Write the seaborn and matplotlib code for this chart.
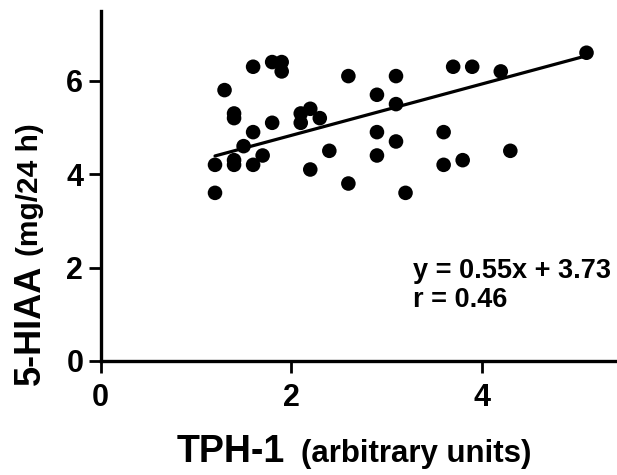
import numpy as np
import pandas as pd
import seaborn as sns
import matplotlib.pyplot as plt

# TPH-1 expression vs urinary 5-HIAA
tph1 = [1.3, 1.6, 1.8, 1.9, 1.9, 1.4, 1.4, 1.6, 1.8, 2.1,
        2.2, 2.1, 2.3, 1.5, 1.7, 1.2, 1.4, 1.4, 1.6, 1.2,
        2.4, 2.2, 2.6, 2.6, 3.1, 2.9, 3.1, 3.7, 3.9, 4.2,
        5.1, 2.9, 3.1, 2.9, 3.2, 3.6, 3.6, 3.8, 4.3]
hiaa = [5.8, 6.3, 6.4, 6.4, 6.2, 5.3, 5.2, 4.9, 5.1, 5.3,
        5.4, 5.1, 5.2, 4.6, 4.4, 4.2, 4.3, 4.2, 4.2, 3.6,
        4.5, 4.1, 6.1, 3.8, 6.1, 5.7, 5.5, 6.3, 6.3, 6.2,
        6.6, 4.9, 4.7, 4.4, 3.6, 4.9, 4.2, 4.3, 4.5]
slope = 0.55
intercept = 3.73
r_value = 0.46

df = pd.DataFrame({'TPH-1': tph1, '5-HIAA': hiaa})
fit_x = np.array([min(tph1), max(tph1)])
fit = pd.DataFrame({'x': fit_x, 'y': slope * fit_x + intercept})

sns.set_style('ticks', rc={'axes.edgecolor': 'black', 'text.color': 'black',
                           'xtick.color': 'black', 'ytick.color': 'black'})
plt.rcParams['font.family'] = ['Liberation Sans', 'DejaVu Sans']
plt.rcParams['font.weight'] = 'bold'

W, H = 617, 475
fig = plt.figure(figsize=(W / 100, H / 100), dpi=100)
ax = fig.add_axes([100.7 / W, (H - 361) / H, 1 - 100.7 / W, (361 - 10.7) / H])

sns.scatterplot(data=df, x='TPH-1', y='5-HIAA', color='black', s=110,
                edgecolor='none', ax=ax, zorder=3)
sns.lineplot(data=fit, x='x', y='y', color='black', linewidth=2.3, ax=ax)

ax.set_xlim(0, 5.42)
ax.set_ylim(0, 7.5)
ax.set_xticks([0, 2, 4])
ax.set_yticks([0, 2, 4, 6])
ax.set_xlabel('')
ax.set_ylabel('')
ax.tick_params(labelsize=22, width=2.0, length=8.5, pad=4)
ax.tick_params(axis='x', pad=7)
for lbl in ax.get_xticklabels() + ax.get_yticklabels():
    lbl.set_fontweight('bold')
sns.despine(ax=ax)
for side in ['left', 'bottom']:
    ax.spines[side].set_linewidth(2.4)

ax.text(413 / W, (H - 278) / H, f'y = {slope}x + {intercept}', transform=fig.transFigure,
        fontsize=19.5, fontweight='bold', ha='left', va='baseline')
ax.text(413 / W, (H - 307) / H, f'r = {r_value}', transform=fig.transFigure,
        fontsize=19.5, fontweight='bold', ha='left', va='baseline')

# axis titles in two sizes
fig.text(285 / W, (H - 462) / H, 'TPH-1', fontsize=27, fontweight='bold',
         ha='right', va='baseline')
fig.text(301 / W, (H - 462) / H, '(arbitrary units)', fontsize=22.5, fontweight='bold',
         ha='left', va='baseline')
fig.text(40 / W, (H - 385) / H, '5-HIAA', fontsize=26, fontweight='bold', rotation=90,
         rotation_mode='anchor', ha='left', va='baseline')
fig.text(38 / W, (H - 256) / H, '(mg/24 h)', fontsize=21.5, fontweight='bold', rotation=90,
         rotation_mode='anchor', ha='left', va='baseline')

fig.savefig('out.png', dpi=100)
